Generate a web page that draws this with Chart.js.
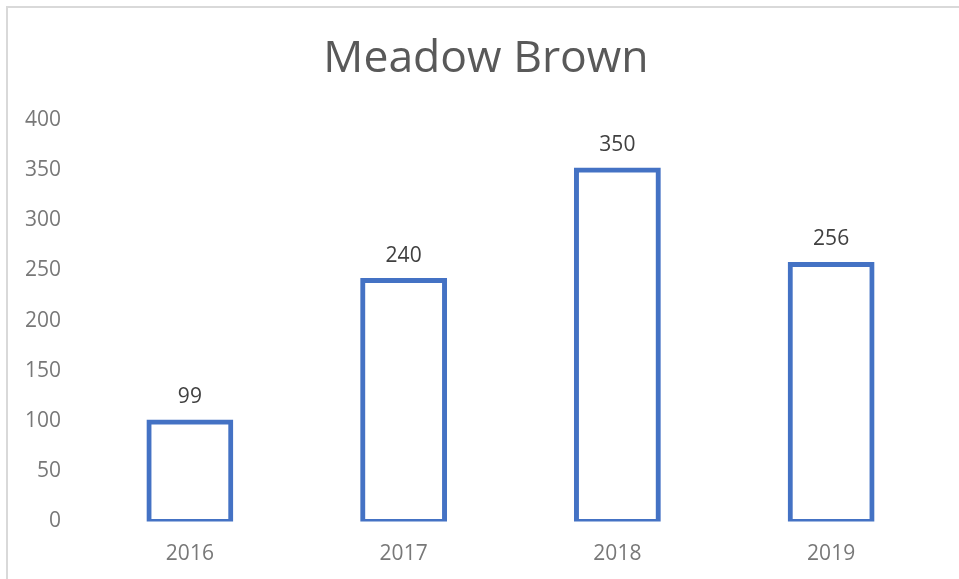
<!DOCTYPE html>
<html>
<head>
<meta charset="utf-8">
<script src="https://cdn.jsdelivr.net/npm/chart.js@4/dist/chart.umd.min.js"></script>
<style>
  html, body { margin: 0; padding: 0; background: #ffffff; }
  #wrap { width: 959px; height: 579px; }
</style>
</head>
<body>
<div id="wrap"><canvas id="c" width="959" height="579"></canvas></div>
<script>
const chartTitle = "Meadow Brown";
const categories = ["2016", "2017", "2018", "2019"];
const counts = [99, 240, 350, 256];
const yMin = 0, yMax = 400, yStep = 50;

const frame = {
  id: 'frame',
  beforeDraw(chart) {
    const ctx = chart.ctx;
    ctx.save();
    ctx.fillStyle = '#ffffff';
    ctx.fillRect(0, 0, chart.width, chart.height);
    ctx.strokeStyle = '#d9d9d9';
    ctx.lineWidth = 2;
    ctx.beginPath();
    ctx.moveTo(7, chart.height);
    ctx.lineTo(7, 7);
    ctx.lineTo(chart.width, 7);
    ctx.stroke();
    ctx.restore();
  }
};

const valueLabels = {
  id: 'valueLabels',
  afterDatasetsDraw(chart) {
    const ctx = chart.ctx;
    const meta = chart.getDatasetMeta(0);
    const yScale = chart.scales.y;
    ctx.save();
    ctx.font = '21px "Open Sans"';
    ctx.fillStyle = '#404040';
    ctx.textAlign = 'center';
    ctx.textBaseline = 'middle';
    meta.data.forEach((bar, i) => {
      const v = chart.data.datasets[0].data[i];
      ctx.fillText(String(v), bar.x, yScale.getPixelForValue(v) - 25);
    });
    ctx.restore();
  }
};

new Chart(document.getElementById('c'), {
  type: 'bar',
  data: {
    labels: categories,
    datasets: [{
      label: chartTitle,
      data: counts,
      backgroundColor: '#ffffff',
      borderColor: '#4472c4',
      borderWidth: 5,
      borderSkipped: false,
      inflateAmount: 2.5,
      barPercentage: 0.383,
      categoryPercentage: 1.0
    }]
  },
  options: {
    responsive: false,
    animation: false,
    devicePixelRatio: 1,
    layout: { padding: { left: 13, right: 0, top: 0, bottom: 0 } },
    plugins: {
      legend: { display: false },
      tooltip: { enabled: false },
      title: {
        display: true,
        text: chartTitle,
        color: '#595959',
        font: { family: '"Open Sans"', size: 44.5, weight: 'normal', lineHeight: 1.2 },
        padding: { top: 33, bottom: 33.5 }
      }
    },
    scales: {
      x: {
        grid: { display: false, drawTicks: false },
        border: { display: false },
        ticks: { color: '#787878', font: { family: '"Open Sans"', size: 21 }, padding: 20 },
        afterFit(scale) { scale.height = 57.5; }
      },
      y: {
        min: yMin, max: yMax,
        grid: { display: false, drawTicks: false },
        border: { display: false },
        ticks: { stepSize: yStep, color: '#787878', font: { family: '"Open Sans"', size: 21 }, padding: 22 },
        afterFit(scale) { scale.width = 70; }
      },
      yRight: {
        position: 'right',
        min: yMin, max: yMax,
        grid: { display: false, drawTicks: false },
        border: { display: false },
        ticks: { display: false },
        afterFit(scale) { scale.width = 21; }
      }
    }
  },
  plugins: [frame, valueLabels]
});
</script>
</body>
</html>
